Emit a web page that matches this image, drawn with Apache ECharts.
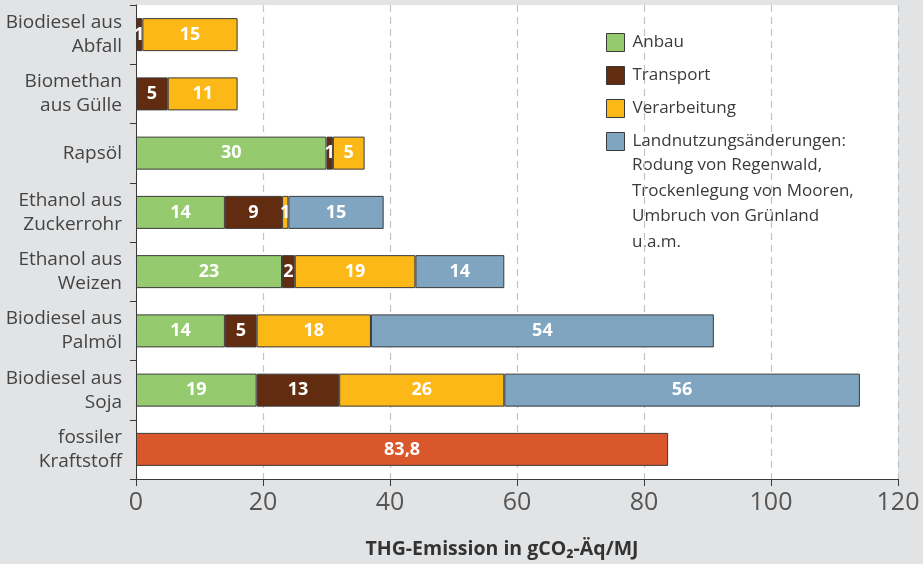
<!DOCTYPE html>
<html><head><meta charset="utf-8">
<script src="https://cdn.jsdelivr.net/npm/echarts@6/dist/echarts.min.js"></script>
<style>html,body{margin:0;padding:0;background:#e2e3e5;}#c{width:923px;height:564px;}</style>
</head><body><div id="c"></div>
<script>
const categories = ['Biodiesel aus\nAbfall', 'Biomethan\naus Gülle', 'Rapsöl', 'Ethanol aus\nZuckerrohr', 'Ethanol aus\nWeizen', 'Biodiesel aus\nPalmöl', 'Biodiesel aus\nSoja', 'fossiler\nKraftstoff'];
const anbau = [null, null, 30, 14, 23, 14, 19, null];
const transport = [1, 5, 1, 9, 2, 5, 13, null];
const verarbeitung = [15, 11, 5, 1, 19, 18, 26, null];
const landnutzung = [null, null, null, 15, 14, 54, 56, null];
const fossil = [null, null, null, null, null, null, null, 83.8];
const legendNames = ['Anbau', 'Transport', 'Verarbeitung', 'Landnutzungsänderungen:'];
const legendExtra = ['Rodung von Regenwald,', 'Trockenlegung von Mooren,', 'Umbruch von Grünland', 'u.a.m.'];
const xTicks = [0, 20, 40, 60, 80, 100, 120];

const colors = ['#95cb6e', '#612c10', '#fbb816', '#7fa5c1', '#d9572b'];
const chart = echarts.init(document.getElementById('c'), null, {renderer: 'canvas'});
function mk(name, data, color) {
  return {
    name: name, type: 'bar', stack: 'total', data: data, barWidth: 33,
    itemStyle: {color: color, borderColor: '#3a3a3a', borderWidth: 1},
    label: {show: true, position: 'inside', color: '#fff', fontFamily: 'Open Sans', fontWeight: 'bold', fontSize: 18,
      formatter: p => (p.value == null ? '' : String(p.value).replace('.', ','))},
    emphasis: {disabled: true}, animation: false
  };
}
chart.setOption({
  backgroundColor: '#e2e3e5',
  animation: false,
  grid: {left: 136, right: 25, top: 5, bottom: 81, show: true, backgroundColor: '#ffffff', borderWidth: 0},
  legend: {
    data: legendNames, orient: 'vertical', left: 601, top: 28, itemWidth: 18, itemHeight: 18, itemGap: 14,
    icon: 'rect', selectedMode: false,
    itemStyle: {borderColor: '#3a3a3a', borderWidth: 1},
    textStyle: {fontFamily: 'Open Sans', fontSize: 17, color: '#3a3a3a', padding: [0, 0, 0, 3]}
  },
  graphic: [
    {type: 'rect', left: 588, top: 5, z: 0, shape: {width: 306, height: 262}, style: {fill: '#ffffff'}, silent: true},
    {type: 'group', left: 632, top: 157, z: 100, children: legendExtra.map((t, i) => ({
      type: 'text', left: 0, top: i * 25.5, style: {text: t, fontFamily: 'Open Sans', fontSize: 17, fill: '#3a3a3a'}
    }))}
  ],
  xAxis: {
    type: 'value', min: 0, max: 120, interval: 20,
    name: 'THG-Emission in gCO₂-Äq/MJ', nameLocation: 'middle', nameGap: 60,
    nameTextStyle: {fontFamily: 'Open Sans', fontWeight: 'bold', fontSize: 19.5, color: '#333', padding: [0, 30, 0, 0]},
    axisLine: {show: true, lineStyle: {color: '#3a3a3a', width: 1}},
    axisTick: {show: true, length: 7, lineStyle: {color: '#3a3a3a'}},
    axisLabel: {fontFamily: 'Liberation Sans Narrow, Open Sans', fontSize: 25, color: '#555', margin: 11,
      formatter: v => (xTicks.indexOf(v) >= 0 ? String(v) : '')},
    splitLine: {show: true, lineStyle: {color: '#c4c4c4', type: [7, 5], width: 1.2}}
  },
  yAxis: {
    type: 'category', data: categories, inverse: true,
    axisLine: {show: true, lineStyle: {color: '#3a3a3a', width: 1}},
    axisTick: {show: true, length: 6, lineStyle: {color: '#3a3a3a'}},
    axisLabel: {fontFamily: 'Open Sans', fontSize: 19, color: '#444', margin: 14, lineHeight: 24, align: 'right'},
    splitLine: {show: false}
  },
  series: [
    mk('Anbau', anbau, colors[0]),
    mk('Transport', transport, colors[1]),
    mk('Verarbeitung', verarbeitung, colors[2]),
    mk('Landnutzungsänderungen:', landnutzung, colors[3]),
    mk('fossil', fossil, colors[4])
  ]
});
</script></body></html>
